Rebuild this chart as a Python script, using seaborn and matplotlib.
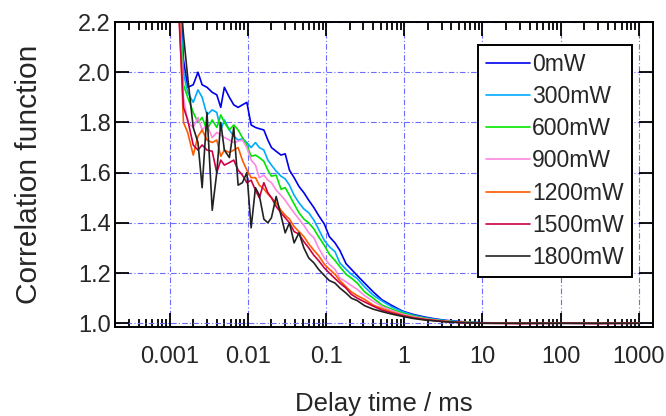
import numpy as np
import pandas as pd
import matplotlib
matplotlib.use('Agg')
import matplotlib.pyplot as plt
import seaborn as sns
from matplotlib.ticker import LogLocator, NullFormatter, FixedLocator

# delay times (ms)
delay = [0.0013, 0.0015, 0.0017, 0.002, 0.0023, 0.0026, 0.003, 0.0035, 0.004, 0.0045,
         0.005, 0.0058, 0.0066, 0.0075, 0.0085, 0.0097,
         0.011, 0.0125, 0.014, 0.016, 0.018, 0.02, 0.023, 0.0265, 0.03, 0.034,
         0.039, 0.045, 0.052, 0.06, 0.07, 0.08, 0.095, 0.11, 0.13, 0.15,
         0.18, 0.21,
         0.25, 0.31, 0.4, 0.52, 0.7, 0.95, 1.3, 1.8, 2.5, 3.5,
         5, 7, 10, 30, 100, 300, 1000]

powers = ['0mW', '300mW', '600mW', '900mW', '1200mW', '1500mW', '1800mW']
colors = ['#0000ee', '#00aaff', '#00e600', '#ff88e0', '#ff5a00', '#cc0044', '#222222']

g_0 = [2.45, 2.05, 1.94, 1.95, 2.0, 1.95, 1.94, 1.92, 1.91, 1.86,
       1.94, 1.9, 1.87, 1.86, 1.87, 1.88,
       1.79, 1.78, 1.775, 1.77, 1.73, 1.7, 1.685, 1.67, 1.675, 1.61,
       1.58, 1.545, 1.52, 1.49, 1.46, 1.43, 1.395, 1.345, 1.32, 1.29,
       1.237, 1.215,
       1.19, 1.16, 1.125, 1.093, 1.07, 1.048, 1.035, 1.025, 1.017, 1.011,
       1.007, 1.004, 1.002, 1.0, 1.0, 1.0, 1.0]
g_300 = [2.4, 2.0, 1.92, 1.88, 1.93, 1.9, 1.83, 1.85, 1.84, 1.77,
         1.81, 1.77, 1.745, 1.73, 1.735, 1.72,
         1.7, 1.72, 1.7, 1.69, 1.65, 1.63, 1.606, 1.586, 1.575, 1.55,
         1.51, 1.48, 1.455, 1.44, 1.41, 1.375, 1.33, 1.305, 1.285, 1.24,
         1.215, 1.195,
         1.178, 1.145, 1.112, 1.088, 1.064, 1.046, 1.032, 1.022, 1.015, 1.01,
         1.006, 1.003, 1.001, 1.0, 1.0, 1.0, 1.0]
g_600 = [2.35, 1.95, 1.9, 1.84, 1.8, 1.82, 1.77, 1.81, 1.78, 1.83,
         1.8, 1.77, 1.79, 1.77, 1.74, 1.71,
         1.665, 1.67, 1.66, 1.645, 1.61, 1.586, 1.59, 1.534, 1.54, 1.51,
         1.475, 1.44, 1.415, 1.4, 1.375, 1.345, 1.31, 1.275, 1.25, 1.225,
         1.195, 1.18,
         1.16, 1.125, 1.1, 1.072, 1.055, 1.04, 1.029, 1.02, 1.013, 1.008,
         1.005, 1.003, 1.001, 1.0, 1.0, 1.0, 1.0]
g_900 = [2.3, 1.9, 1.8, 1.78, 1.82, 1.77, 1.79, 1.74, 1.76, 1.75,
         1.74, 1.73, 1.72, 1.725, 1.73, 1.7,
         1.65, 1.63, 1.58, 1.59, 1.57, 1.56, 1.53, 1.51, 1.49, 1.465,
         1.44, 1.415, 1.39, 1.36, 1.34, 1.3, 1.26, 1.235, 1.215, 1.18,
         1.165, 1.15,
         1.135, 1.11, 1.088, 1.066, 1.05, 1.036, 1.026, 1.018, 1.012, 1.007,
         1.004, 1.002, 1.001, 1.0, 1.0, 1.0, 1.0]
g_1200 = [2.3, 1.8, 1.76, 1.67, 1.745, 1.77, 1.73, 1.72, 1.73, 1.665,
          1.69, 1.68, 1.69, 1.7, 1.65, 1.61,
          1.58, 1.58, 1.55, 1.535, 1.515, 1.5, 1.48, 1.45, 1.43, 1.415,
          1.385, 1.365, 1.345, 1.316, 1.29, 1.27, 1.235, 1.215, 1.195, 1.17,
          1.145, 1.125,
          1.11, 1.095, 1.072, 1.058, 1.044, 1.032, 1.023, 1.016, 1.011, 1.007,
          1.004, 1.002, 1.0, 1.0, 1.0, 1.0, 1.0]
g_1500 = [2.25, 1.86, 1.81, 1.71, 1.69, 1.71, 1.69, 1.685, 1.6, 1.65,
          1.63, 1.64, 1.65, 1.61, 1.59, 1.56,
          1.57, 1.53, 1.5, 1.56, 1.52, 1.5, 1.465, 1.44, 1.42, 1.4,
          1.365, 1.355, 1.325, 1.3, 1.27, 1.25, 1.22, 1.2, 1.178, 1.16,
          1.14, 1.115,
          1.1, 1.085, 1.068, 1.052, 1.04, 1.03, 1.021, 1.015, 1.01, 1.006,
          1.003, 1.001, 1.0, 0.998, 1.0, 0.998, 1.0]
g_1800 = [2.4, 2.15, 1.98, 1.78, 1.72, 1.54, 1.84, 1.45, 1.6, 1.8,
          1.69, 1.66, 1.78, 1.55, 1.56, 1.6,
          1.38, 1.54, 1.51, 1.415, 1.4, 1.42, 1.505, 1.43, 1.36, 1.4,
          1.32, 1.36, 1.3, 1.26, 1.24, 1.215, 1.19, 1.17, 1.16, 1.14,
          1.12, 1.1,
          1.09, 1.07, 1.056, 1.046, 1.036, 1.027, 1.019, 1.013, 1.009, 1.005,
          1.003, 1.001, 1.0, 1.0, 1.0, 1.0, 1.0]

series = [g_0, g_300, g_600, g_900, g_1200, g_1500, g_1800]

rows = []
for p, vals in zip(powers, series):
    for t, v in zip(delay, vals):
        rows.append({'delay': t, 'g': v, 'power': p})
df = pd.DataFrame(rows)

sns.set_style('white')
plt.rcParams['font.family'] = ['Liberation Sans', 'DejaVu Sans']

fig = plt.figure(figsize=(6.66, 4.16), dpi=100)
ax = fig.add_axes([0.1727, 0.214, 0.8073, 0.733])

sns.lineplot(data=df, x='delay', y='g', hue='power', hue_order=powers,
             palette=colors, estimator=None, sort=False, linewidth=1.2,
             ax=ax, legend=False)

ax.set_xscale('log')
ax.set_xlim(2.0e-4, 1500)
ax.set_ylim(0.985, 2.2)

ax.xaxis.set_major_locator(FixedLocator([1e-3, 1e-2, 1e-1, 1, 10, 100, 1000]))
ax.set_xticklabels(['0.001', '0.01', '0.1', '1', '10', '100', '1000'])
ax.xaxis.set_minor_locator(LogLocator(base=10, subs=np.arange(2, 10), numticks=20))
ax.xaxis.set_minor_formatter(NullFormatter())
ax.set_yticks([1.0, 1.2, 1.4, 1.6, 1.8, 2.0, 2.2])
ax.set_yticklabels(['1.0', '1.2', '1.4', '1.6', '1.8', '2.0', '2.2'])
ax.grid(True, which='major', color='#6c6cff', linestyle=(0, (5, 2, 1, 2)), linewidth=0.8)

for s in ax.spines.values():
    s.set_color('black')
    s.set_linewidth(1.4)

ax.tick_params(which='both', direction='in', top=True, right=True, bottom=True, left=True,
               color='black', width=1.3)
ax.tick_params(which='major', length=10)
ax.tick_params(which='minor', length=5.5)
ax.tick_params(axis='x', which='major', labelsize=17, pad=14)
ax.tick_params(axis='y', which='major', labelsize=17, pad=3)
ax.tick_params(axis='y', which='minor', left=False, right=False)

ax.set_xlabel('Delay time / ms', fontsize=18.5, labelpad=17)
ax.set_ylabel('Correlation function', fontsize=21.5, labelpad=25)

handles = ax.get_lines()[:len(powers)]
leg = ax.legend(handles, powers, loc='upper right', bbox_to_anchor=(0.961, 0.925),
                fontsize=16.5, frameon=True, fancybox=False, framealpha=1,
                edgecolor='black', handlelength=1.9, handletextpad=0.1,
                labelspacing=0.4, borderpad=0.35, borderaxespad=0)
leg.get_frame().set_linewidth(1.4)

fig.savefig('out.png', dpi=100)
